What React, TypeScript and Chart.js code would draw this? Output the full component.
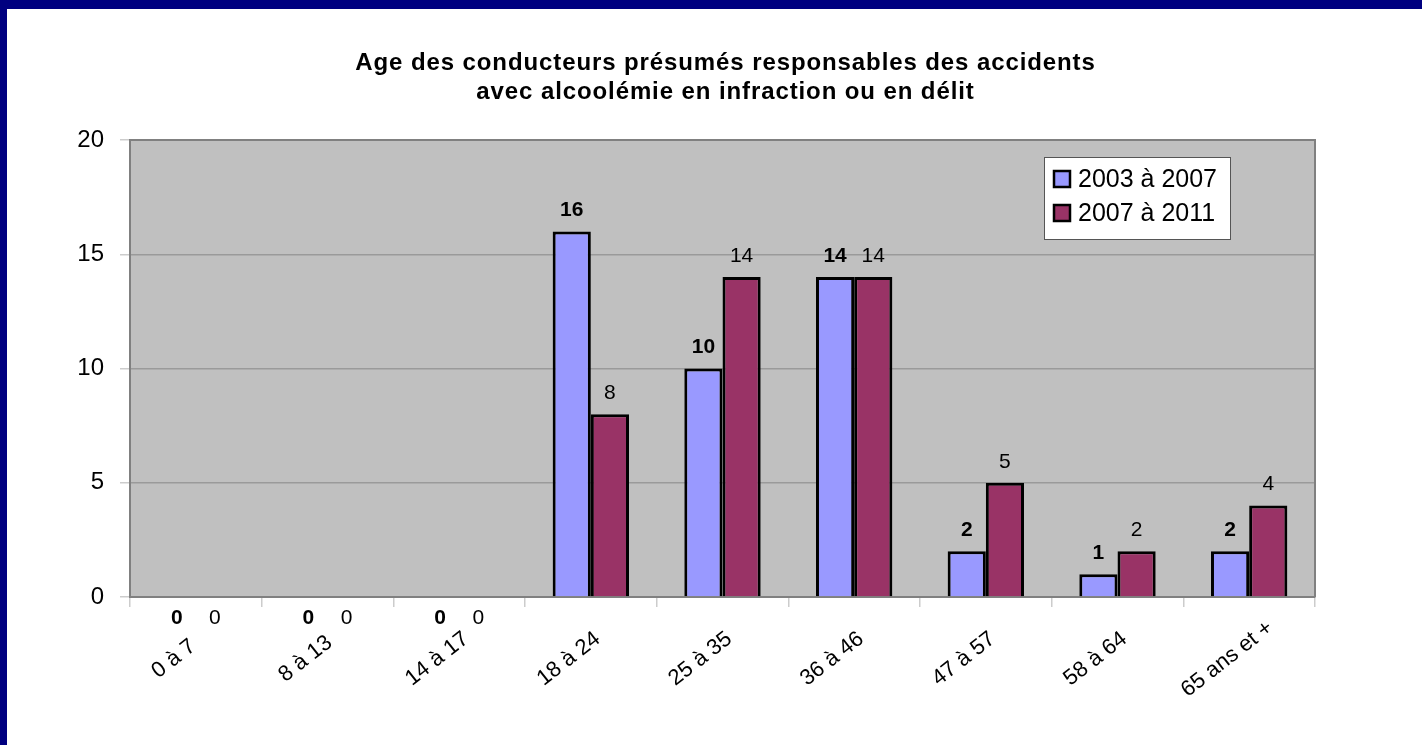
import React, { useEffect, useRef } from "react";
import { Chart, registerables } from "chart.js";

Chart.register(...registerables);

const categories = ["0 à 7", "8 à 13", "14 à 17", "18 à 24", "25 à 35", "36 à 46", "47 à 57", "58 à 64", "65 ans et +"];
const series2003to2007 = [0, 0, 0, 16, 10, 14, 2, 1, 2];
const series2007to2011 = [0, 0, 0, 8, 14, 14, 5, 2, 4];
const seriesNames = ["2003 à 2007", "2007 à 2011"];
const seriesColors = ["#9999FF", "#993366"];
const titleLines = ["Age des conducteurs présumés responsables des accidents", "avec alcoolémie en infraction ou en délit"];
const yMin = 0;
const yMax = 20;
const yStep = 5;

const FONT = "'Liberation Sans', Arial, sans-serif";

const decorPlugin = {
  id: "decor",
  beforeDraw(chart: any) {
    const { ctx, chartArea: a } = chart;
    ctx.save();
    ctx.fillStyle = "#C0C0C0";
    ctx.fillRect(a.left, a.top, a.right - a.left, a.bottom - a.top);
    ctx.restore();
  },
  afterDraw(chart: any) {
    const { ctx, chartArea: a } = chart;
    ctx.save();
    // top and right plot border
    ctx.strokeStyle = "#808080";
    ctx.lineWidth = 2;
    ctx.beginPath();
    ctx.moveTo(a.left, a.top);
    ctx.lineTo(a.right, a.top);
    ctx.lineTo(a.right, a.bottom);
    ctx.stroke();

    // title
    ctx.fillStyle = "#000";
    ctx.font = `bold 24px ${FONT}`;
    (ctx as any).letterSpacing = "0.9px";
    ctx.textAlign = "center";
    ctx.textBaseline = "middle";
    const cx = (a.left + a.right) / 2 + 3;
    titleLines.forEach((t, i) => ctx.fillText(t, cx, 54 + i * 29));
    (ctx as any).letterSpacing = "0px";

    // data labels
    chart.data.datasets.forEach((ds: any, di: number) => {
      const meta = chart.getDatasetMeta(di);
      ctx.font = di === 0 ? `bold 21px ${FONT}` : `21px ${FONT}`;
      meta.data.forEach((bar: any, i: number) => {
        const v = ds.data[i];
        const y = v === 0 ? bar.base + 21 : bar.y - 21;
        ctx.fillText(String(v), bar.x, y);
      });
    });

    // x labels (rotated)
    const xs = chart.scales.x;
    ctx.font = `22px ${FONT}`;
    categories.forEach((c, i) => {
      const x = xs.getPixelForValue(i);
      ctx.save();
      ctx.translate(x - 22, a.bottom + 62);
      ctx.rotate((-38 * Math.PI) / 180);
      ctx.textAlign = "center";
      ctx.fillText(c, 0, 0);
      ctx.restore();
    });

    // legend
    const bw = 186, bh = 82;
    const bx = a.right - 85 - bw;
    const by = a.top + 17;
    ctx.fillStyle = "#fff";
    ctx.fillRect(bx, by, bw, bh);
    ctx.strokeStyle = "#555";
    ctx.lineWidth = 1;
    ctx.strokeRect(bx + 0.5, by + 0.5, bw, bh);
    seriesNames.forEach((n, i) => {
      const ry = by + 22 + i * 34;
      ctx.fillStyle = seriesColors[i];
      ctx.fillRect(bx + 10, ry - 8, 16, 16);
      ctx.strokeStyle = "#000";
      ctx.lineWidth = 2.5;
      ctx.strokeRect(bx + 10, ry - 8, 16, 16);
      ctx.fillStyle = "#000";
      ctx.font = `25px ${FONT}`;
      ctx.textAlign = "left";
      ctx.textBaseline = "middle";
      ctx.fillText(n, bx + 34, ry + 1);
    });
    ctx.restore();
  },
};

export default function App() {
  const ref = useRef<HTMLCanvasElement>(null);
  useEffect(() => {
    if (!ref.current) return;
    const chart = new Chart(ref.current, {
      type: "bar",
      data: {
        labels: categories,
        datasets: [
          {
            label: seriesNames[0],
            data: series2003to2007,
            backgroundColor: seriesColors[0],
            borderColor: "#000",
            borderWidth: 3,
            categoryPercentage: 0.58,
            barPercentage: 1,
          },
          {
            label: seriesNames[1],
            data: series2007to2011,
            backgroundColor: seriesColors[1],
            borderColor: "#000",
            borderWidth: 3,
            categoryPercentage: 0.58,
            barPercentage: 1,
          },
        ],
      },
      options: {
        animation: false,
        responsive: false,
        maintainAspectRatio: false,
        layout: { padding: { left: 0, right: 107, top: 131, bottom: 0 } },
        plugins: { legend: { display: false }, title: { display: false }, tooltip: { enabled: false } },
        scales: {
          x: {
            offset: true,
            ticks: { display: false },
            grid: { display: true, drawOnChartArea: false, tickColor: "#cccccc", tickLength: 10, offset: true, lineWidth: 1.5 },
            border: { display: true, color: "#808080", width: 2 },
            afterFit: (s: any) => { s.height = 148; },
          },
          y: {
            min: yMin,
            max: yMax,
            ticks: { stepSize: yStep, color: "#000", font: { family: FONT, size: 24 }, padding: 16 },
            grid: { color: "#9a9a9a", lineWidth: 1.5, tickColor: "#cccccc", tickLength: 10 },
            border: { display: true, color: "#808080", width: 2 },
            afterFit: (s: any) => { s.width = 123; },
          },
        },
      },
      plugins: [decorPlugin],
    });
    return () => chart.destroy();
  }, []);
  return (
    <div style={{ position: "fixed", left: 0, top: 0, width: 1422, height: 745, background: "#fff", boxSizing: "border-box", borderLeft: "7px solid #000080", borderTop: "9px solid #000080" }}>
      <canvas ref={ref} width={1415} height={736} style={{ display: "block", width: 1415, height: 736 }} />
    </div>
  );
}
